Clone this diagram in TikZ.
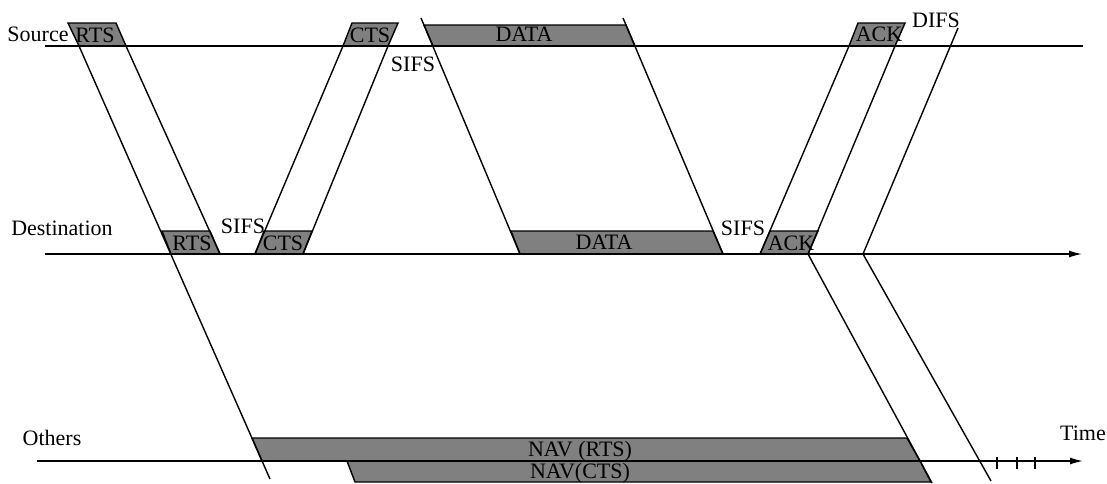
\documentclass[tikz,border=0pt]{standalone}
\usepackage{fontspec}
\setmainfont{Liberation Serif}
\usetikzlibrary{arrows.meta}
\definecolor{boxgray}{RGB}{128,128,128}
\begin{document}
\begin{tikzpicture}[x=1pt,y=-1pt,
  sig/.style={line width=1.4pt},
  frame/.style={fill=boxgray,draw=black,line width=1.4pt,line join=miter},
  lbl/.style={inner sep=0pt,anchor=base,font=\fontsize{22}{24}\selectfont},
  axis/.style={line width=1.4pt,-{Latex[length=13pt,width=7pt]}}]
\useasboundingbox (0,0) rectangle (1107,483);

% ---- coordinates
% time lines
\coordinate (s0) at (45,46);   \coordinate (s1) at (1083,46);
\coordinate (d0) at (45,254);  \coordinate (d1) at (1082,254);
\coordinate (o0) at (37,461);  \coordinate (o1) at (1083,461);
% RTS
\coordinate (rtsA) at (79,46);  \coordinate (rtsB) at (126,46);
\coordinate (rtsC) at (171,254); \coordinate (rtsD) at (220,254);
\coordinate (rtsE) at (270,479);
% CTS
\coordinate (ctsA) at (255,254); \coordinate (ctsB) at (303,254);
\coordinate (ctsC) at (343,46);  \coordinate (ctsD) at (388,46);
% DATA
\coordinate (daA) at (421,18);  \coordinate (daB) at (623,18);
\coordinate (daC) at (520,254); \coordinate (daD) at (723,254);
% ACK
\coordinate (ackA) at (760,254); \coordinate (ackB) at (808,254);
\coordinate (ackC) at (849,46);  \coordinate (ackD) at (895,46);
\coordinate (ackE) at (932,483);
% DIFS
\coordinate (dfA) at (958,28); \coordinate (dfB) at (863,254);
\coordinate (dfC) at (991,481);

% ---- shaded frames
\draw[frame] (68,23) -- (116,23) -- (rtsB) -- (rtsA) -- cycle;
\draw[frame] (162,231) -- (210,231) -- (rtsD) -- (rtsC) -- cycle;
\draw[frame] (ctsA) -- (ctsB) -- (312,231) -- (264,231) -- cycle;
\draw[frame] (ctsC) -- (ctsD) -- (398,23) -- (352,23) -- cycle;
\draw[frame] (424,25) -- (626,25) -- (635,46) -- (433,46) -- cycle;
\draw[frame] (511,231) -- (713,231) -- (daD) -- (daC) -- cycle;
\draw[frame] (ackA) -- (ackB) -- (818,231) -- (770,231) -- cycle;
\draw[frame] (ackC) -- (ackD) -- (905,23) -- (858,23) -- cycle;
\draw[frame] (252,438) -- (907,438) -- (920,461) -- (262,461) -- cycle;
\draw[frame] (347,461) -- (920,461) -- (931,482) -- (355,482) -- cycle;

% ---- time lines
\draw[sig] (s0) -- (s1);
\draw[axis] (d0) -- (d1);
\draw[axis] (o0) -- (o1);
\foreach \t in {997,1017,1035} \draw[sig] (\t,457) -- (\t,469);

% ---- signal lines
\draw[sig] (rtsA) -- (rtsE);
\draw[sig] (rtsB) -- (rtsD);
\draw[sig] (ctsA) -- (ctsC);
\draw[sig] (ctsB) -- (ctsD);
\draw[sig] (daA) -- (daC);
\draw[sig] (daB) -- (daD);
\draw[sig] (ackA) -- (ackC);
\draw[sig] (ackB) -- (ackD);
\draw[sig] (ackB) -- (ackE);
\draw[sig] (dfA) -- (dfB) -- (dfC);

% ---- labels
\node[lbl] (lsrc) at (38,41) {Source};
\node[lbl] (ldst) at (62,235) {Destination};
\node[lbl] (loth) at (52,445) {Others};
\node[lbl] (ltime) at (1083,440) {Time};
\node[lbl] (trts1) at (95,42) {RTS};
\node[lbl] (trts2) at (192,250) {RTS};
\node[lbl] (tcts1) at (370,42) {CTS};
\node[lbl] (tcts2) at (283,250) {CTS};
\node[lbl] (tdat1) at (524,41) {DATA};
\node[lbl] (tdat2) at (604,249) {DATA};
\node[lbl] (tack1) at (879,41) {ACK};
\node[lbl] (tack2) at (791,250) {ACK};
\node[lbl] (sifs1) at (243,233) {SIFS};
\node[lbl] (sifs2) at (413,71) {SIFS};
\node[lbl] (sifs3) at (743,235) {SIFS};
\node[lbl] (difs) at (936,27) {DIFS};
\node[lbl] (nav1) at (580,456) {NAV (RTS)};
\node[lbl] (nav2) at (580,478) {NAV(CTS)};
\end{tikzpicture}
\end{document}
